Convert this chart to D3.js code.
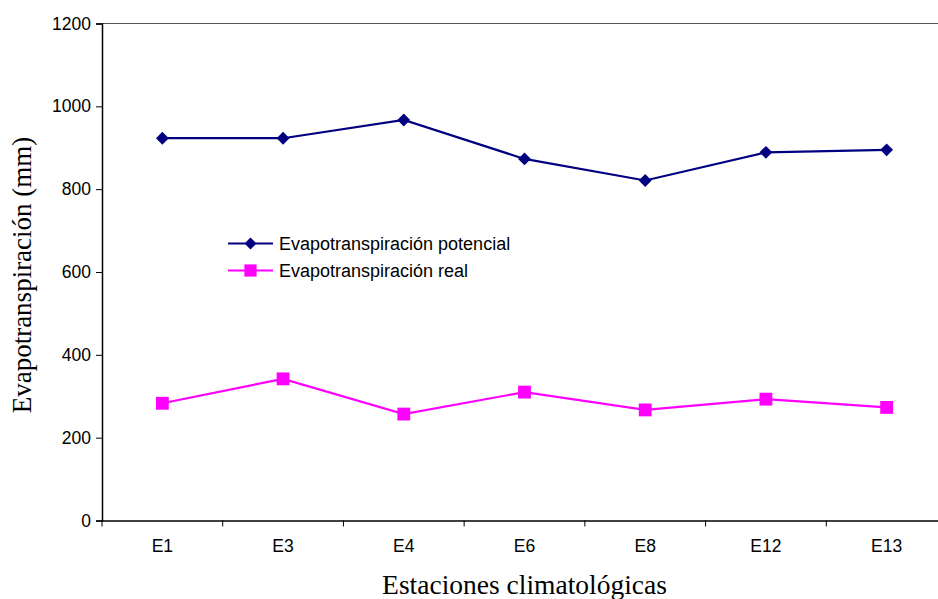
<!DOCTYPE html>
<html>
<head>
<meta charset="utf-8">
<script src="https://cdn.jsdelivr.net/npm/d3@7"></script>
<style>
  html, body { margin: 0; padding: 0; background: #fff; }
  svg { display: block; }
</style>
</head>
<body>
<svg id="chart" width="938" height="599"></svg>
<script>
// Stations and annual evapotranspiration (mm)
const stations = ["E1", "E3", "E4", "E6", "E8", "E12", "E13"];
const potencial = [923, 923, 967, 873, 821, 889, 895];
const real = [283, 342, 257, 310, 267, 293, 273];
const yTicks = [0, 200, 400, 600, 800, 1000, 1200];

const svg = d3.select("#chart");
const plotLeft = 102, plotRight = 947, plotTop = 23.5, plotBottom = 520.5;
const sans = "Liberation Sans, Arial, sans-serif";
const serif = "Liberation Serif, Times New Roman, serif";

const x = d3.scaleBand().domain(stations).range([plotLeft, plotRight]);
const y = d3.scaleLinear().domain([0, 1200]).range([plotBottom, plotTop]);

// Top frame line
svg.append("line")
  .attr("x1", plotLeft).attr("x2", plotRight)
  .attr("y1", plotTop).attr("y2", plotTop)
  .attr("stroke", "#555").attr("stroke-width", 1.2);

// Y axis
const yAxis = svg.append("g")
  .attr("transform", `translate(${plotLeft},0)`)
  .call(d3.axisLeft(y).tickValues(yTicks).tickSize(6).tickPadding(5).tickFormat(d3.format("d")));
yAxis.select(".domain").attr("stroke", "#000").attr("stroke-width", 1.5);
yAxis.selectAll(".tick line").attr("stroke", "#000");
yAxis.selectAll("text")
  .attr("font-family", sans)
  .attr("font-size", 17.5).attr("fill", "#000");

// X axis with ticks on the band boundaries
const xAxis = svg.append("g")
  .attr("transform", `translate(0,${plotBottom})`)
  .call(d3.axisBottom(x).tickSize(0).tickPadding(19));
xAxis.select(".domain").attr("stroke", "#000").attr("stroke-width", 1.5);
xAxis.selectAll("text")
  .attr("font-family", sans)
  .attr("font-size", 17.5).attr("fill", "#000");
xAxis.selectAll(".boundary")
  .data(stations)
  .enter().append("line")
  .attr("x1", d => x(d)).attr("x2", d => x(d))
  .attr("y1", 0).attr("y2", 6)
  .attr("stroke", "#000");

// Axis titles
svg.append("text")
  .attr("transform", `translate(31,${(plotTop + plotBottom) / 2 + 3}) rotate(-90)`)
  .attr("text-anchor", "middle")
  .attr("font-family", serif)
  .attr("font-size", 27)
  .text("Evapotranspiración (mm)");

svg.append("text")
  .attr("x", (plotLeft + plotRight) / 2).attr("y", 594)
  .attr("text-anchor", "middle")
  .attr("font-family", serif)
  .attr("font-size", 27.5)
  .text("Estaciones climatológicas");

const cx = d => x(d) + x.bandwidth() / 2;
const line = d3.line().x((d, i) => cx(stations[i])).y(d => y(d));

const series = [
  { name: "Evapotranspiración potencial", values: potencial, color: "#000080", shape: d3.symbolDiamond2, size: 105, legendSize: 90 },
  { name: "Evapotranspiración real", values: real, color: "#FF00FF", shape: d3.symbolSquare, size: 165, legendSize: 150 }
];

series.forEach(s => {
  svg.append("path")
    .datum(s.values)
    .attr("d", line)
    .attr("fill", "none")
    .attr("stroke", s.color)
    .attr("stroke-width", 2.2);
  svg.selectAll(null)
    .data(s.values)
    .enter().append("path")
    .attr("transform", (d, i) => `translate(${cx(stations[i])},${y(d)})`)
    .attr("d", d3.symbol().type(s.shape).size(s.size))
    .attr("fill", s.color);
});

// Legend
const legend = svg.append("g").attr("transform", "translate(228,243.5)");
series.forEach((s, i) => {
  const g = legend.append("g").attr("transform", `translate(0,${i * 27})`);
  g.append("line").attr("x1", 0).attr("x2", 45).attr("y1", 0).attr("y2", 0)
    .attr("stroke", s.color).attr("stroke-width", 2.2);
  g.append("path").attr("transform", "translate(22.5,0)")
    .attr("d", d3.symbol().type(s.shape).size(s.legendSize))
    .attr("fill", s.color);
  g.append("text").attr("x", 51).attr("y", 0).attr("dy", "0.35em")
    .attr("font-family", sans)
    .attr("font-size", 18)
    .text(s.name);
});
</script>
</body>
</html>
